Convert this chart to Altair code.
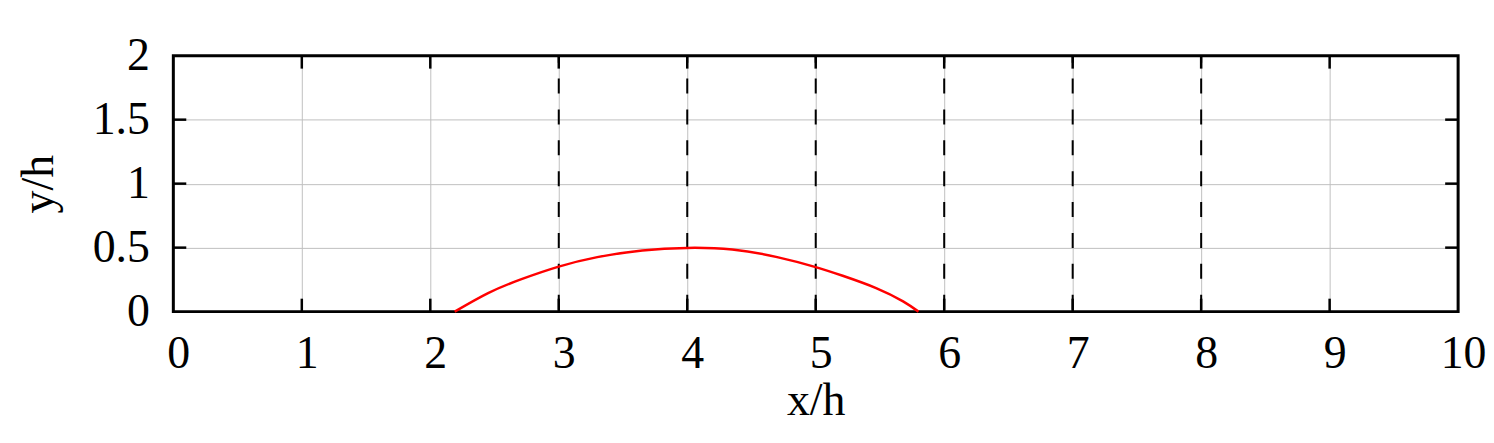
import altair as alt
import pandas as pd

# ---- data ----
curve_x = [2.19, 2.45, 2.71, 3.0, 3.3, 3.65, 4.0, 4.35, 4.7, 5.0, 5.21, 5.47, 5.68, 5.80]
curve_y = [0.0, 0.145, 0.254, 0.352, 0.426, 0.478, 0.498, 0.485, 0.426, 0.348, 0.28, 0.184, 0.08, 0.0]
dash_x = [3, 4, 5, 6, 7, 8]
x_tick_values = [0, 1, 2, 3, 4, 5, 6, 7, 8, 9, 10]
y_tick_values = [0, 0.5, 1, 1.5, 2]
x_inner_ticks = [1, 2, 3, 4, 5, 6, 7, 8, 9]
y_inner_ticks = [0.5, 1, 1.5]

W, H = 1290, 257
TL = 13  # inward tick length (px)
FONT = "Liberation Serif"

curve_df = pd.DataFrame({"x": curve_x, "y": curve_y})
dash_df = pd.DataFrame({"x": dash_x})
xt_df = pd.DataFrame({"x": x_inner_ticks})
yt_df = pd.DataFrame({"y": y_inner_ticks})

xscale = alt.Scale(domain=[0, 10], nice=False, zero=False)
yscale = alt.Scale(domain=[0, 2], nice=False, zero=False)

xaxis = alt.Axis(values=x_tick_values, format="~g", title="x/h", grid=True,
                 ticks=False, domain=False, labelOffset=5, labelPadding=20,
                 labelFlush=False, titlePadding=2)
yaxis = alt.Axis(values=y_tick_values, format="~g", title="y/h", grid=True,
                 ticks=False, domain=False, labelPadding=24, labelFlush=False,
                 titlePadding=30)

curve = alt.Chart(curve_df).mark_line(color="#ff0000", strokeWidth=2.5, interpolate="natural").encode(
    x=alt.X("x:Q", scale=xscale, axis=xaxis),
    y=alt.Y("y:Q", scale=yscale, axis=yaxis),
)

dashes = alt.Chart(dash_df).mark_rule(color="black", strokeWidth=2, strokeDash=[15, 16],
                                       strokeDashOffset=8).encode(
    x=alt.X("x:Q", scale=xscale)
)

tick_style = dict(color="black", strokeWidth=2.5)
xt_bottom = alt.Chart(xt_df).mark_rule(**tick_style).encode(
    x=alt.X("x:Q", scale=xscale), y=alt.value(H), y2=alt.value(H - TL)
)
xt_top = alt.Chart(xt_df).mark_rule(**tick_style).encode(
    x=alt.X("x:Q", scale=xscale), y=alt.value(0), y2=alt.value(TL)
)
yt_left = alt.Chart(yt_df).mark_rule(**tick_style).encode(
    y=alt.Y("y:Q", scale=yscale), x=alt.value(0), x2=alt.value(TL)
)
yt_right = alt.Chart(yt_df).mark_rule(**tick_style).encode(
    y=alt.Y("y:Q", scale=yscale), x=alt.value(W), x2=alt.value(W - TL)
)

frame = alt.Chart(pd.DataFrame({"k": [0]})).mark_rect(
    fill=None, stroke="black", strokeWidth=3
).encode(
    x=alt.value(0), x2=alt.value(W), y=alt.value(0), y2=alt.value(H)
)

chart = alt.layer(dashes, xt_bottom, xt_top, yt_left, yt_right, frame, curve).properties(
    width=W, height=H,
    autosize=alt.AutoSizeParams(type="none"),
    padding={"left": 166, "top": 47, "right": 28, "bottom": 120},
).configure_view(
    stroke=None
).configure_axis(
    labelFont=FONT, labelFontSize=46, labelColor="black",
    titleFont=FONT, titleFontSize=46, titleFontWeight="normal", titleColor="black",
    gridColor="#c0c0c0", gridWidth=1,
)

chart.save("out.html", embed_options={"renderer": "svg", "actions": False})
